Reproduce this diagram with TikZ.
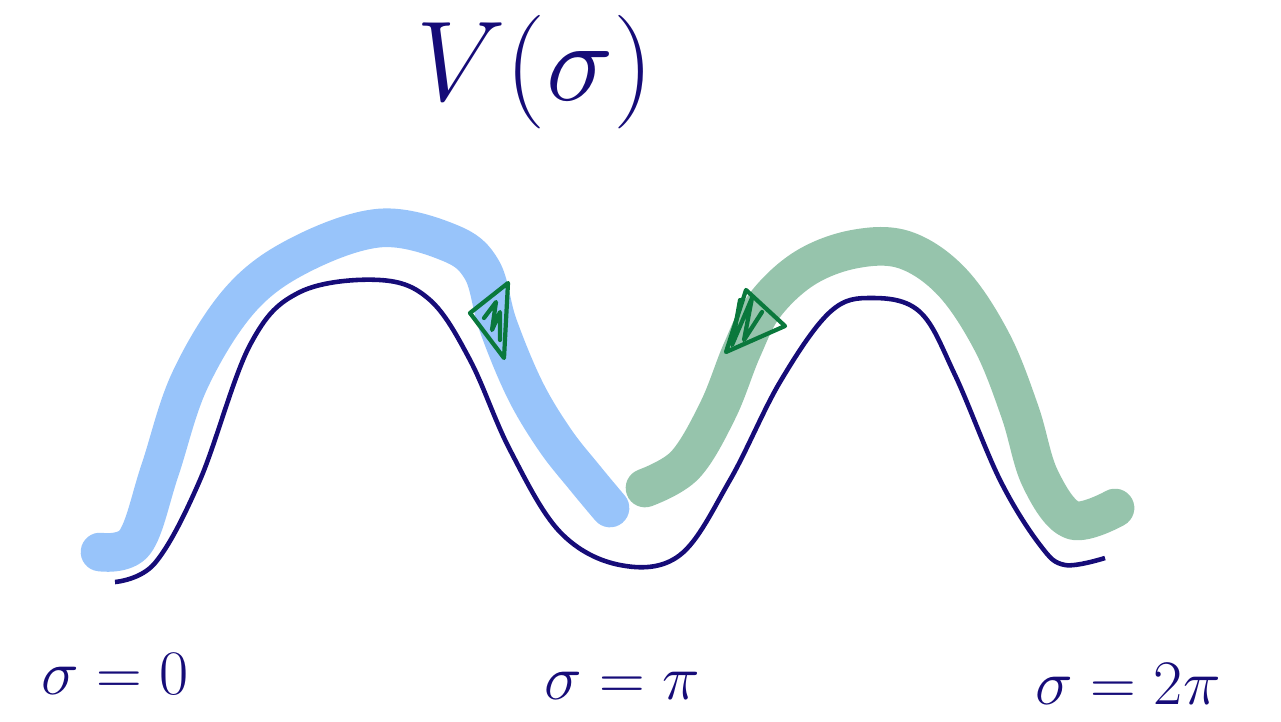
\documentclass[tikz,border=0pt]{standalone}
\usepackage{tikz}
\usetikzlibrary{positioning, calc}
\definecolor{inkblue}{RGB}{22, 12, 120}
\definecolor{paleblue}{RGB}{152, 196, 250}
\definecolor{palegreen}{RGB}{150, 196, 172}
\definecolor{inkgreen}{RGB}{10, 120, 60}

\tikzset{
  potential/.style={draw=inkblue, line width=2.6pt},
  pathband/.style={line width=22pt, line cap=round, line join=round},
  headtri/.style={draw=inkgreen, line width=2.4pt, line join=round},
  scribble/.style={draw=inkgreen, line width=2.4pt, line join=round, line cap=round},
  lbl/.style={text=inkblue, inner sep=0pt, font=\Huge}
}

\begin{document}
\begin{tikzpicture}[x=0.02cm, y=-0.02cm]
  \useasboundingbox (0,0) rectangle (1281,721);

  % the two coloured paths
  \draw[pathband, paleblue] plot[smooth, tension=0.6] coordinates {
    (100,552) (135,542) (160,470) (190,380) (240,300) (300,255) (380,228)
    (450,243) (482,270) (498,325) (525,390) (555,440) (585,478) (610,508)};
  \draw[pathband, palegreen] plot[smooth, tension=0.6] coordinates {
    (645,488) (685,465) (718,410) (742,350) (765,305) (805,268) (855,249)
    (905,250) (952,282) (992,342) (1020,412) (1040,478) (1072,520) (1115,508)};

  % the potential
  \draw[potential] plot[smooth, tension=0.6] coordinates {
    (115,582) (155,563) (200,480) (250,345) (300,292) (380,280) (430,300)
    (470,360) (510,450) (560,532) (620,565) (680,555) (730,480) (780,382)
    (830,312) (872,298) (920,312) (955,375) (1000,480) (1040,545)
    (1065,565) (1105,558)};

  % arrow heads
  \draw[headtri] (470,313) -- (508,283) -- (504,358) -- cycle;
  \draw[scribble] (484,318) -- (496,302) -- (492,330) -- (500,312) -- (500,340);
  \draw[headtri] (726,352) -- (746,290) -- (785,326) -- cycle;
  \draw[scribble] (740,300) -- (732,345) -- (752,298) -- (744,340) -- (762,312);

  % labels
  \node[lbl, scale=2.6] (vsig) at (535,72) {$V(\sigma)$};
  \node[lbl, scale=1.45] (szero) at (115,674) {$\sigma=0$};
  \node[lbl, scale=1.45] (spi) at (622,686) {$\sigma=\pi$};
  \node[lbl, scale=1.45] (stwopi) at (1128,684) {$\sigma=2\pi$};
\end{tikzpicture}
\end{document}
